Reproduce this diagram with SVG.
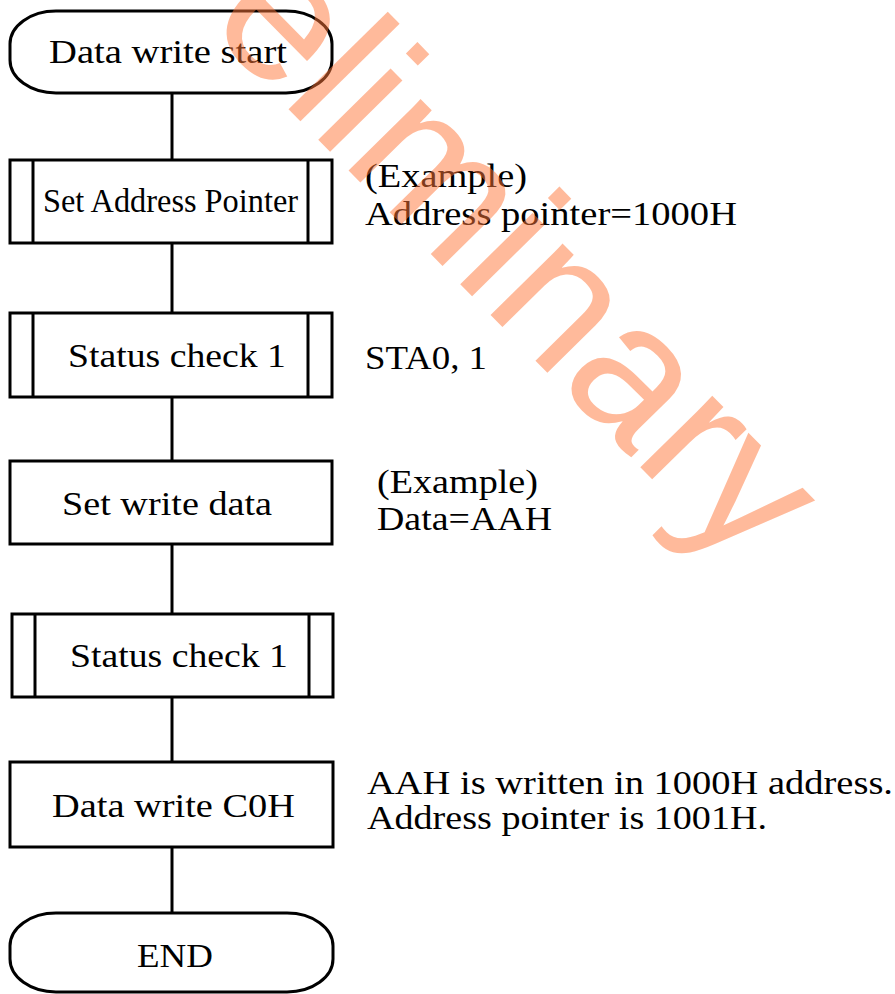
<svg xmlns="http://www.w3.org/2000/svg" width="895" height="994" viewBox="0 0 895 994">
<style>
.shape{fill:#fff;stroke:#000;stroke-width:3}
.bar{stroke:#000;stroke-width:3}
.conn{stroke:#000;stroke-width:3;fill:none}
.t{font-family:'Liberation Serif',serif;font-size:33px;fill:#000}
.wm{font-family:'Liberation Sans',sans-serif;font-size:192px;fill:#FF7537;fill-opacity:0.5}
</style>
<rect width="895" height="994" fill="#fff"/>
<g id="connectors">
<line class="conn" x1="172" y1="93" x2="172" y2="160"/>
<line class="conn" x1="172" y1="243" x2="172" y2="313"/>
<line class="conn" x1="172" y1="397" x2="172" y2="461"/>
<line class="conn" x1="172" y1="544" x2="172" y2="614"/>
<line class="conn" x1="172" y1="697" x2="172" y2="762"/>
<line class="conn" x1="172" y1="847" x2="172" y2="913"/>
</g>
<g id="start">
<rect class="shape" x="10" y="11" width="322" height="82" rx="46" ry="33"/>
<text class="t" x="49" y="63" textLength="238" lengthAdjust="spacingAndGlyphs">Data write start</text>
</g>
<g id="set-address-pointer">
<rect class="shape" x="10" y="160" width="322" height="83"/>
<line class="bar" x1="33" y1="160" x2="33" y2="243"/>
<line class="bar" x1="308" y1="160" x2="308" y2="243"/>
<text class="t" x="43" y="211.5" font-size="37" textLength="255" lengthAdjust="spacingAndGlyphs">Set Address Pointer</text>
</g>
<g id="status-check-1a">
<rect class="shape" x="10" y="313" width="322" height="84"/>
<line class="bar" x1="33" y1="313" x2="33" y2="397"/>
<line class="bar" x1="308" y1="313" x2="308" y2="397"/>
<text class="t" x="68" y="367" textLength="218" lengthAdjust="spacingAndGlyphs">Status check 1</text>
</g>
<g id="set-write-data">
<rect class="shape" x="10" y="461" width="322" height="83"/>
<text class="t" x="62" y="515" textLength="210" lengthAdjust="spacingAndGlyphs">Set write data</text>
</g>
<g id="status-check-1b">
<rect class="shape" x="12" y="614" width="321" height="83"/>
<line class="bar" x1="35" y1="614" x2="35" y2="697"/>
<line class="bar" x1="309" y1="614" x2="309" y2="697"/>
<text class="t" x="70" y="667" textLength="218" lengthAdjust="spacingAndGlyphs">Status check 1</text>
</g>
<g id="data-write-c0h">
<rect class="shape" x="10" y="762" width="323" height="85"/>
<text class="t" x="52" y="817" textLength="243" lengthAdjust="spacingAndGlyphs">Data write C0H</text>
</g>
<g id="end">
<rect class="shape" x="10" y="913" width="323" height="79" rx="46" ry="33"/>
<text class="t" x="137" y="967" textLength="76" lengthAdjust="spacingAndGlyphs">END</text>
</g>
<g id="notes">
<text class="t" x="365" y="187" textLength="162" lengthAdjust="spacingAndGlyphs">(Example)</text>
<text class="t" x="365" y="225" textLength="372" lengthAdjust="spacingAndGlyphs">Address pointer=1000H</text>
<text class="t" x="365" y="369" textLength="122" lengthAdjust="spacingAndGlyphs">STA0, 1</text>
<text class="t" x="377" y="493" textLength="161" lengthAdjust="spacingAndGlyphs">(Example)</text>
<text class="t" x="377" y="530" textLength="175" lengthAdjust="spacingAndGlyphs">Data=AAH</text>
<text class="t" x="367" y="794" textLength="526" lengthAdjust="spacingAndGlyphs">AAH is written in 1000H address.</text>
<text class="t" x="367" y="829" textLength="400" lengthAdjust="spacingAndGlyphs">Address pointer is 1001H.</text>
</g>
<g id="watermark">
<text class="wm" transform="translate(70,-113) rotate(45.5)" x="0" y="0">Preliminary</text>
</g>
</svg>
